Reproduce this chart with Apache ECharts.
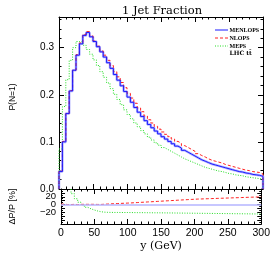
<!DOCTYPE html>
<html><head><meta charset="utf-8">
<script src="https://cdn.jsdelivr.net/npm/echarts@6/dist/echarts.min.js"></script>
<style>html,body{margin:0;padding:0;background:#fff}#c{width:273px;height:253px}</style>
</head><body><div id="c"></div>
<script>
// bin lower edges (GeV), 5 GeV bins from 0 to 300
const binWidth = 5;
const binLow = Array.from({length: 60}, (_, i) => i * binWidth);
const xMax = 300;

const seriesNames = ['MENLOPS', 'NLOPS', 'MEPS'];
const legendNote = 'LHC tt\u0304';

const menlops = [0.037,0.100,0.160,0.208,0.252,0.284,0.308,0.326,0.332,0.323,
 0.313,0.302,0.291,0.280,0.268,0.256,0.243,0.231,0.219,0.207,
 0.195,0.184,0.173,0.163,0.154,0.145,0.137,0.130,0.123,0.117,
 0.111,0.106,0.101,0.096,0.091,0.087,0.082,0.078,0.074,0.070,
 0.066,0.062,0.059,0.056,0.053,0.051,0.049,0.047,0.045,0.043,
 0.041,0.039,0.037,0.036,0.034,0.033,0.031,0.030,0.029,0.027];

const nlops = [0.038,0.101,0.160,0.209,0.252,0.285,0.310,0.328,0.334,0.325,
 0.314,0.303,0.293,0.284,0.273,0.262,0.249,0.238,0.226,0.215,
 0.203,0.193,0.182,0.172,0.164,0.155,0.147,0.140,0.133,0.127,
 0.121,0.116,0.111,0.106,0.101,0.097,0.092,0.088,0.084,0.080,
 0.075,0.071,0.068,0.064,0.061,0.059,0.057,0.055,0.052,0.050,
 0.048,0.046,0.044,0.042,0.040,0.039,0.037,0.036,0.035,0.032];

const meps = [0.085,0.175,0.232,0.273,0.300,0.313,0.312,0.305,0.296,0.286,
 0.274,0.262,0.249,0.237,0.225,0.213,0.201,0.190,0.179,0.168,
 0.158,0.149,0.140,0.132,0.124,0.117,0.110,0.104,0.098,0.093,
 0.088,0.084,0.080,0.076,0.072,0.068,0.064,0.061,0.058,0.055,
 0.052,0.049,0.046,0.044,0.042,0.040,0.038,0.037,0.035,0.033,
 0.032,0.030,0.029,0.028,0.026,0.025,0.024,0.023,0.022,0.021];

// relative differences to MENLOPS, in %
const ratioNlops = [1,0,0,0.5,0,0.5,0.6,0.6,0.6,0.6,
 0.3,0.3,0.8,1.3,1.8,2.2,2.6,3.0,3.4,3.8,
 4.2,4.7,5.2,5.7,6.2,6.7,7.2,7.7,8.2,8.7,
 9.2,9.7,10.2,10.7,11.2,11.7,12.2,12.7,13.2,13.7,
 14.1,14.4,14.7,15.0,15.3,15.6,15.9,16.2,16.5,16.8,
 17.1,17.4,17.7,18.0,18.3,18.6,18.9,19.2,19.5,19.8];

const ratioMeps = [130,75,45,28,15,6,-1,-7,-11,-14,
 -16.5,-18.5,-19.5,-20,-20.2,-20.3,-20.3,-20.4,-20.5,-20.5,
 -20.6,-20.7,-20.8,-20.8,-20.9,-21.0,-21.1,-21.2,-21.2,-21.3,
 -21.4,-21.5,-21.6,-21.7,-21.8,-21.9,-22.0,-22.1,-22.2,-22.3,
 -22.4,-22.5,-22.6,-22.7,-22.8,-22.9,-23.0,-23.1,-23.2,-23.3,
 -23.4,-23.5,-23.6,-23.7,-23.8,-23.9,-24.0,-24.1,-24.2,-24.3];

// ratio tick labels, split over two overlaid axes so none is dropped
const ratioLabelsOuter = [-20, 20];
const ratioLabelsMid = [0];

function hist(vals) {
  const d = [[binLow[0], 0]];
  vals.forEach((v, i) => d.push([binLow[i], v]));
  d.push([xMax, vals[vals.length - 1]]);
  d.push([xMax, 0]);
  return d;
}
function ratioHist(vals) {
  const d = vals.map((v, i) => [binLow[i], v]);
  d.push([xMax, vals[vals.length - 1]]);
  return d;
}

const BLUE = '#1a1aff', LAV = '#b4b4ff', RED = '#ff2020', GREEN = '#22dd22';
const sans = 'Liberation Sans';
const tickCommon = {show: true, inside: true, length: 5, lineStyle: {color: '#000', width: 1}};
const minorCommon = {show: true, length: 2.5, lineStyle: {color: '#000', width: 1}};
const lineCommon = {show: true, onZero: false, lineStyle: {color: '#000', width: 1}};
const styles = {
  MENLOPS: {color: BLUE, width: 1, type: 'solid'},
  NLOPS: {color: RED, width: 1, type: [3, 2]},
  MEPS: {color: GREEN, width: 1, type: [1, 1.5]}
};
const ratioFmt = v => (v < 0 ? '\u2212' + Math.abs(v) : String(v));

function xAx(grid, pos, labels) {
  return {type: 'value', gridIndex: grid, position: pos, min: 0, max: xMax, interval: 50,
    axisLine: lineCommon, axisTick: tickCommon, minorTick: Object.assign({splitNumber: 5}, minorCommon),
    splitLine: {show: false},
    axisLabel: {show: labels, color: '#000', fontFamily: sans, fontSize: 10.5, margin: 4}};
}

// legend drawn as graphic items (legend decoration only)
const legendGraphic = [];
const legendTop = 30, legendStep = 8;
const legendFont = 'bold 6px "Liberation Serif"';
seriesNames.forEach((n, i) => {
  const y = legendTop + i * legendStep;
  legendGraphic.push({type: 'line', shape: {x1: 215, y1: y, x2: 228, y2: y},
    style: {stroke: styles[n].color, lineWidth: 1, lineDash: styles[n].type === 'solid' ? null : styles[n].type}});
  legendGraphic.push({type: 'text', x: 229.5, y: y, style: {text: n, font: legendFont, fill: '#000', textVerticalAlign: 'middle'}});
});
legendGraphic.push({type: 'text', x: 229.5, y: legendTop + 3 * legendStep - 0.5,
  style: {text: legendNote, font: 'bold 6px "DejaVu Serif"', fill: '#000', textVerticalAlign: 'middle'}});

const chart = echarts.init(document.getElementById('c'), null, {renderer: 'canvas'});
chart.setOption({
  animation: false,
  backgroundColor: '#fff',
  title: {text: '1 Jet Fraction', left: 157, top: 0, textAlign: 'center',
    textStyle: {fontFamily: 'DejaVu Serif', fontWeight: 'normal', fontSize: 11.5, color: '#000'}},
  graphic: legendGraphic,
  grid: [
    {left: 55, top: 17, width: 208, height: 172},
    {left: 55, top: 189, width: 208, height: 40}
  ],
  xAxis: [
    xAx(0, 'bottom', false), xAx(0, 'top', false),
    Object.assign(xAx(1, 'bottom', true), {name: 'y (GeV)', nameLocation: 'middle', nameGap: 17,
      nameTextStyle: {fontFamily: 'DejaVu Serif', fontSize: 11, color: '#000'}}),
    xAx(1, 'top', false)
  ],
  yAxis: [
    {type: 'value', gridIndex: 0, position: 'left', min: 0, max: 0.365, interval: 0.1,
      name: 'P(N=1)', nameLocation: 'middle', nameGap: 42, nameRotate: 90,
      nameTextStyle: {fontFamily: sans, fontSize: 8.5, color: '#000', padding: [0, 0, 0, 12]},
      axisLine: lineCommon, axisTick: tickCommon, minorTick: Object.assign({splitNumber: 5}, minorCommon),
      splitLine: {show: false},
      axisLabel: {color: '#000', fontFamily: sans, fontSize: 10, margin: 5, showMaxLabel: false, hideOverlap: false,
        formatter: v => v.toFixed(1)}},
    {type: 'value', gridIndex: 0, position: 'right', min: 0, max: 0.365, interval: 0.1,
      axisLine: lineCommon, axisTick: tickCommon, minorTick: Object.assign({splitNumber: 5}, minorCommon),
      splitLine: {show: false}, axisLabel: {show: false}},
    {type: 'value', gridIndex: 1, position: 'left', min: -50, max: 40, interval: 10,
      name: '\u0394P/P [%]', nameLocation: 'middle', nameGap: 44, nameRotate: 90,
      nameTextStyle: {fontFamily: sans, fontSize: 9, color: '#000'},
      axisLine: lineCommon, axisTick: Object.assign({}, tickCommon, {length: 4}), minorTick: Object.assign({splitNumber: 2}, minorCommon, {length: 2}),
      splitLine: {show: false},
      axisLabel: {color: '#000', fontFamily: sans, fontSize: 9.5, margin: 5, hideOverlap: false,
        customValues: ratioLabelsOuter, formatter: ratioFmt}},
    {type: 'value', gridIndex: 1, position: 'right', min: -50, max: 40, interval: 10,
      axisLine: lineCommon, axisTick: Object.assign({}, tickCommon, {length: 4}), minorTick: Object.assign({splitNumber: 2}, minorCommon, {length: 2}),
      splitLine: {show: false}, axisLabel: {show: false}},
    {type: 'value', gridIndex: 1, position: 'left', min: -50, max: 40, interval: 10,
      axisLine: {show: false, onZero: false}, axisTick: {show: false}, minorTick: {show: false},
      splitLine: {show: false},
      axisLabel: {color: '#000', fontFamily: sans, fontSize: 9.5, margin: 5, hideOverlap: false,
        customValues: ratioLabelsMid, formatter: ratioFmt}}
  ],
  series: [
    {type: 'line', name: 'menlopsBand', xAxisIndex: 0, yAxisIndex: 0, step: 'end', symbol: 'none', silent: true,
      data: hist(menlops), lineStyle: {color: LAV, width: 2.5}, z: 1},
    {type: 'line', name: 'MEPS', xAxisIndex: 0, yAxisIndex: 0, step: 'end', symbol: 'none',
      data: hist(meps), lineStyle: styles.MEPS, z: 2},
    {type: 'line', name: 'NLOPS', xAxisIndex: 0, yAxisIndex: 0, step: 'end', symbol: 'none',
      data: hist(nlops), lineStyle: styles.NLOPS, z: 3},
    {type: 'line', name: 'MENLOPS', xAxisIndex: 0, yAxisIndex: 0, step: 'end', symbol: 'none',
      data: hist(menlops), lineStyle: styles.MENLOPS, z: 4},
    {type: 'line', name: 'ratioMeps', xAxisIndex: 2, yAxisIndex: 2, step: 'end', symbol: 'none', clip: true,
      data: ratioHist(ratioMeps), lineStyle: styles.MEPS, z: 2,
      markLine: {silent: true, symbol: ['none', 'none'], label: {show: false},
        lineStyle: {color: LAV, width: 1.5, type: 'solid'}, data: [{yAxis: 0}]}},
    {type: 'line', name: 'ratioNlops', xAxisIndex: 2, yAxisIndex: 2, step: 'end', symbol: 'none', clip: true,
      data: ratioHist(ratioNlops), lineStyle: styles.NLOPS, z: 3}
  ]
});
</script></body></html>
